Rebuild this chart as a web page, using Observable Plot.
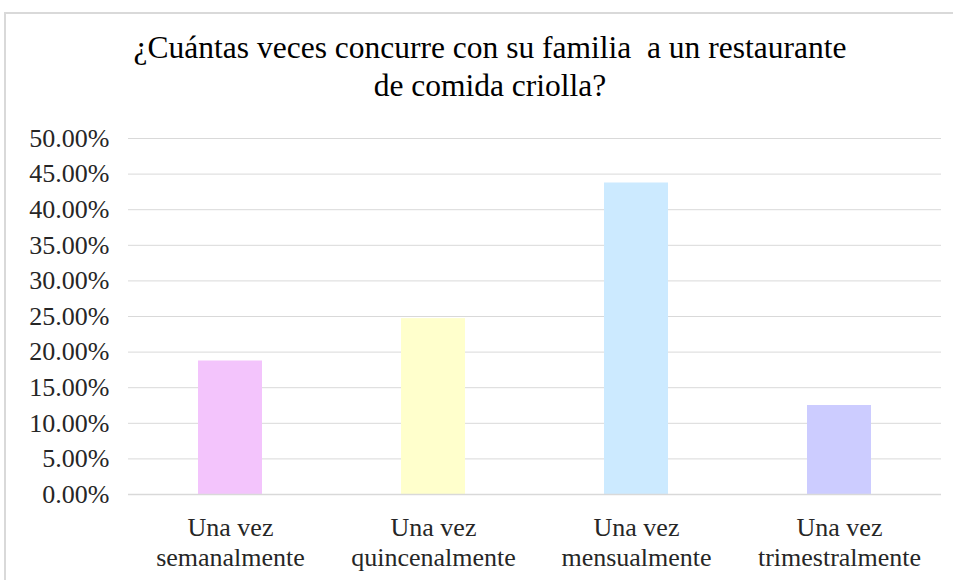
<!DOCTYPE html>
<html>
<head>
<meta charset="utf-8">
<script src="https://cdn.jsdelivr.net/npm/d3@7"></script>
<script src="https://cdn.jsdelivr.net/npm/@observablehq/plot@0.6"></script>
<style>
  html, body { margin: 0; padding: 0; background: #fff; }
  #frame { position: absolute; left: 4px; top: 12px; width: 1000px; height: 700px;
           border-left: 2px solid #d9d9d9; border-top: 2px solid #d9d9d9; box-sizing: border-box; }
  #title { position: absolute; left: 0; top: 29px; width: 980px; text-align: center;
           font-family: "Liberation Serif", "Times New Roman", Times, "DejaVu Serif", serif; font-size: 31.5px;
           line-height: 38px; color: #000; }
  #chart { position: absolute; left: 0; top: 120px; }
</style>
</head>
<body>
<div id="frame"></div>
<div id="title">¿Cuántas veces concurre con su familia&nbsp; a un restaurante<br>de comida criolla?</div>
<div id="chart"></div>
<script>
const categories = ["Una vez semanalmente", "Una vez quincenalmente", "Una vez mensualmente", "Una vez trimestralmente"];
const tickLabels = ["Una vez\nsemanalmente", "Una vez\nquincenalmente", "Una vez\nmensualmente", "Una vez\ntrimestralmente"];
const values = [0.1875, 0.247, 0.4375, 0.125];
const colors = ["#f3c4fc", "#ffffcc", "#cceaff", "#ccccff"];
const yTicks = [0, 0.05, 0.10, 0.15, 0.20, 0.25, 0.30, 0.35, 0.40, 0.45, 0.50];

const data = categories.map((c, i) => ({category: c, value: values[i], color: colors[i]}));

const serif = "'Liberation Serif', 'Times New Roman', Times, 'DejaVu Serif', serif";
const plot = Plot.plot({
  width: 953,
  height: 460,
  marginTop: 18,
  marginBottom: 86,
  marginLeft: 128,
  marginRight: 12,
  style: {fontFamily: serif, fontSize: "26px", color: "#262626", background: "transparent"},
  x: {domain: categories, paddingInner: 0.685, paddingOuter: 0.3425, align: 0.5, label: null},
  y: {domain: [0, 0.5], label: null},
  marks: [
    Plot.gridY(yTicks, {stroke: "#d9d9d9", strokeOpacity: 1, strokeWidth: 1}),
    Plot.barY(data, {x: "category", y: "value", fill: "color"}),
    Plot.ruleY([0], {stroke: "#d9d9d9", strokeWidth: 1.5}),
    Plot.axisY({ticks: yTicks, tickFormat: d3.format(".2%"), tickSize: 0, tickPadding: 19, label: null, fontSize: 26}),
    Plot.axisX({tickFormat: d => tickLabels[categories.indexOf(d)], tickSize: 0, tickPadding: 20, lineHeight: 1.15, label: null, fontSize: 26})
  ]
});
plot.querySelectorAll("text").forEach(t => { t.setAttribute("fill", "#262626"); });
plot.querySelectorAll("g").forEach(g => { if (g.getAttribute("font-family")) g.setAttribute("font-family", serif); });
document.getElementById("chart").appendChild(plot);
</script>
</body>
</html>
